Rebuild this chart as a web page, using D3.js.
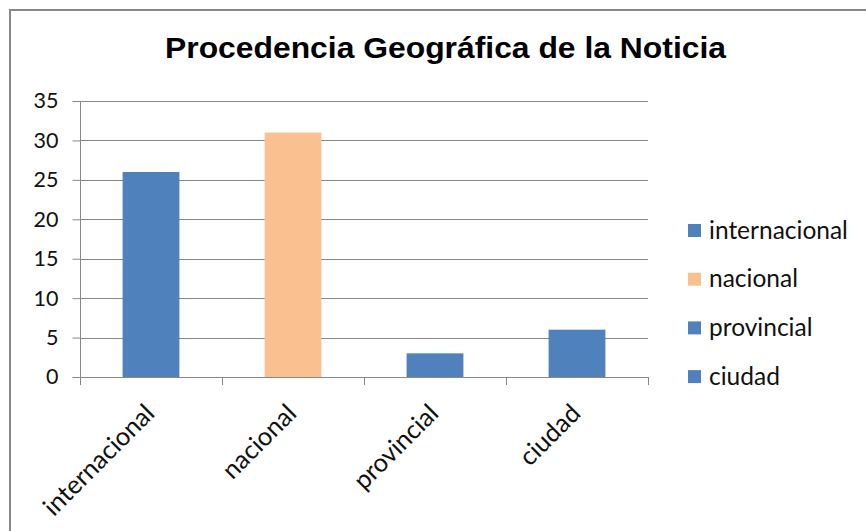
<!DOCTYPE html>
<html>
<head>
<meta charset="utf-8">
<script src="https://cdn.jsdelivr.net/npm/d3@7"></script>
<style>
  body { margin: 0; background: #fff; }
  svg { display: block; }
</style>
</head>
<body>
<svg id="chart" width="866" height="531"></svg>
<script>
const categories = ['internacional', 'nacional', 'provincial', 'ciudad'];
const values = [26, 31, 3, 6];
const colours = ['#4F81BD', '#FAC090', '#4F81BD', '#4F81BD'];
const yTicks = [0, 5, 10, 15, 20, 25, 30, 35];

const svg = d3.select('#chart');
const bodyFont = 'Lato, "Open Sans", sans-serif';

// chart frame
svg.append('rect')
  .attr('x', 10).attr('y', 10)
  .attr('width', 880).attr('height', 560)
  .attr('fill', '#fff')
  .attr('stroke', '#888')
  .attr('stroke-width', 2);

svg.append('text')
  .attr('x', 165).attr('y', 58)
  .attr('textLength', 561)
  .attr('lengthAdjust', 'spacingAndGlyphs')
  .style('font-family', '"Liberation Sans", Arial, sans-serif')
  .style('font-weight', 'bold')
  .style('font-size', '30px')
  .text('Procedencia Geográfica de la Noticia');

const plot = { left: 80, right: 648, top: 101, bottom: 377 };

const x = d3.scaleBand()
  .domain(categories)
  .range([plot.left, plot.right])
  .paddingInner(0.6)
  .paddingOuter(0.3);

const y = d3.scaleLinear()
  .domain([0, 35])
  .range([plot.bottom, plot.top]);

// gridlines
svg.append('g')
  .selectAll('line')
  .data(yTicks)
  .enter()
  .append('line')
  .attr('x1', plot.left).attr('x2', plot.right)
  .attr('y1', d => Math.round(y(d)) + 0.5)
  .attr('y2', d => Math.round(y(d)) + 0.5)
  .style('stroke', '#888')
  .style('stroke-width', 1);

// y axis
const yAxis = svg.append('g')
  .attr('transform', `translate(${plot.left + 0.5},0)`)
  .call(d3.axisLeft(y).tickValues(yTicks).tickSize(8).tickPadding(14));
yAxis.select('.domain').attr('stroke', '#888').attr('d', `M0,${plot.top}V${plot.bottom}`);
yAxis.selectAll('.tick line').attr('stroke', '#888');
yAxis.selectAll('.tick text')
  .style('font-family', bodyFont)
  .style('font-size', '21.5px')
  .attr('fill', '#111');

// bars
svg.append('g')
  .selectAll('rect')
  .data(categories)
  .enter()
  .append('rect')
  .attr('x', d => x(d))
  .attr('width', x.bandwidth())
  .attr('y', (d, i) => y(values[i]))
  .attr('height', (d, i) => y(0) - y(values[i]))
  .attr('fill', (d, i) => colours[i]);

// x axis with ticks at category boundaries
const boundaries = d3.range(categories.length + 1).map(i => plot.left + i * (plot.right - plot.left) / categories.length);
const xg = svg.append('g');
xg.append('line')
  .attr('x1', plot.left).attr('x2', plot.right)
  .attr('y1', plot.bottom + 0.5).attr('y2', plot.bottom + 0.5)
  .style('stroke', '#888');
xg.selectAll('line.tk')
  .data(boundaries)
  .enter()
  .append('line')
  .attr('class', 'tk')
  .attr('x1', d => Math.round(d) + 0.5).attr('x2', d => Math.round(d) + 0.5)
  .attr('y1', plot.bottom).attr('y2', plot.bottom + 8)
  .style('stroke', '#888');

xg.selectAll('text')
  .data(categories)
  .enter()
  .append('text')
  .attr('transform', d => `translate(${x(d) + x.bandwidth() / 2 + 5},${plot.bottom + 38}) rotate(-45)`)
  .attr('text-anchor', 'end')
  .style('font-family', bodyFont)
  .style('font-size', '25.5px')
  .attr('fill', '#111')
  .text(d => d);

// legend
const legend = svg.append('g')
  .selectAll('g')
  .data(categories)
  .enter()
  .append('g')
  .attr('transform', (d, i) => `translate(688,${230 + i * 48.7})`);
legend.append('rect')
  .attr('x', 0).attr('y', -6)
  .attr('width', 13).attr('height', 13)
  .attr('fill', (d, i) => colours[i]);
legend.append('text')
  .attr('x', 21).attr('y', 0)
  .attr('dy', '0.35em')
  .style('font-family', bodyFont)
  .style('font-size', '24.5px')
  .attr('fill', '#111')
  .text(d => d);
</script>
</body>
</html>
